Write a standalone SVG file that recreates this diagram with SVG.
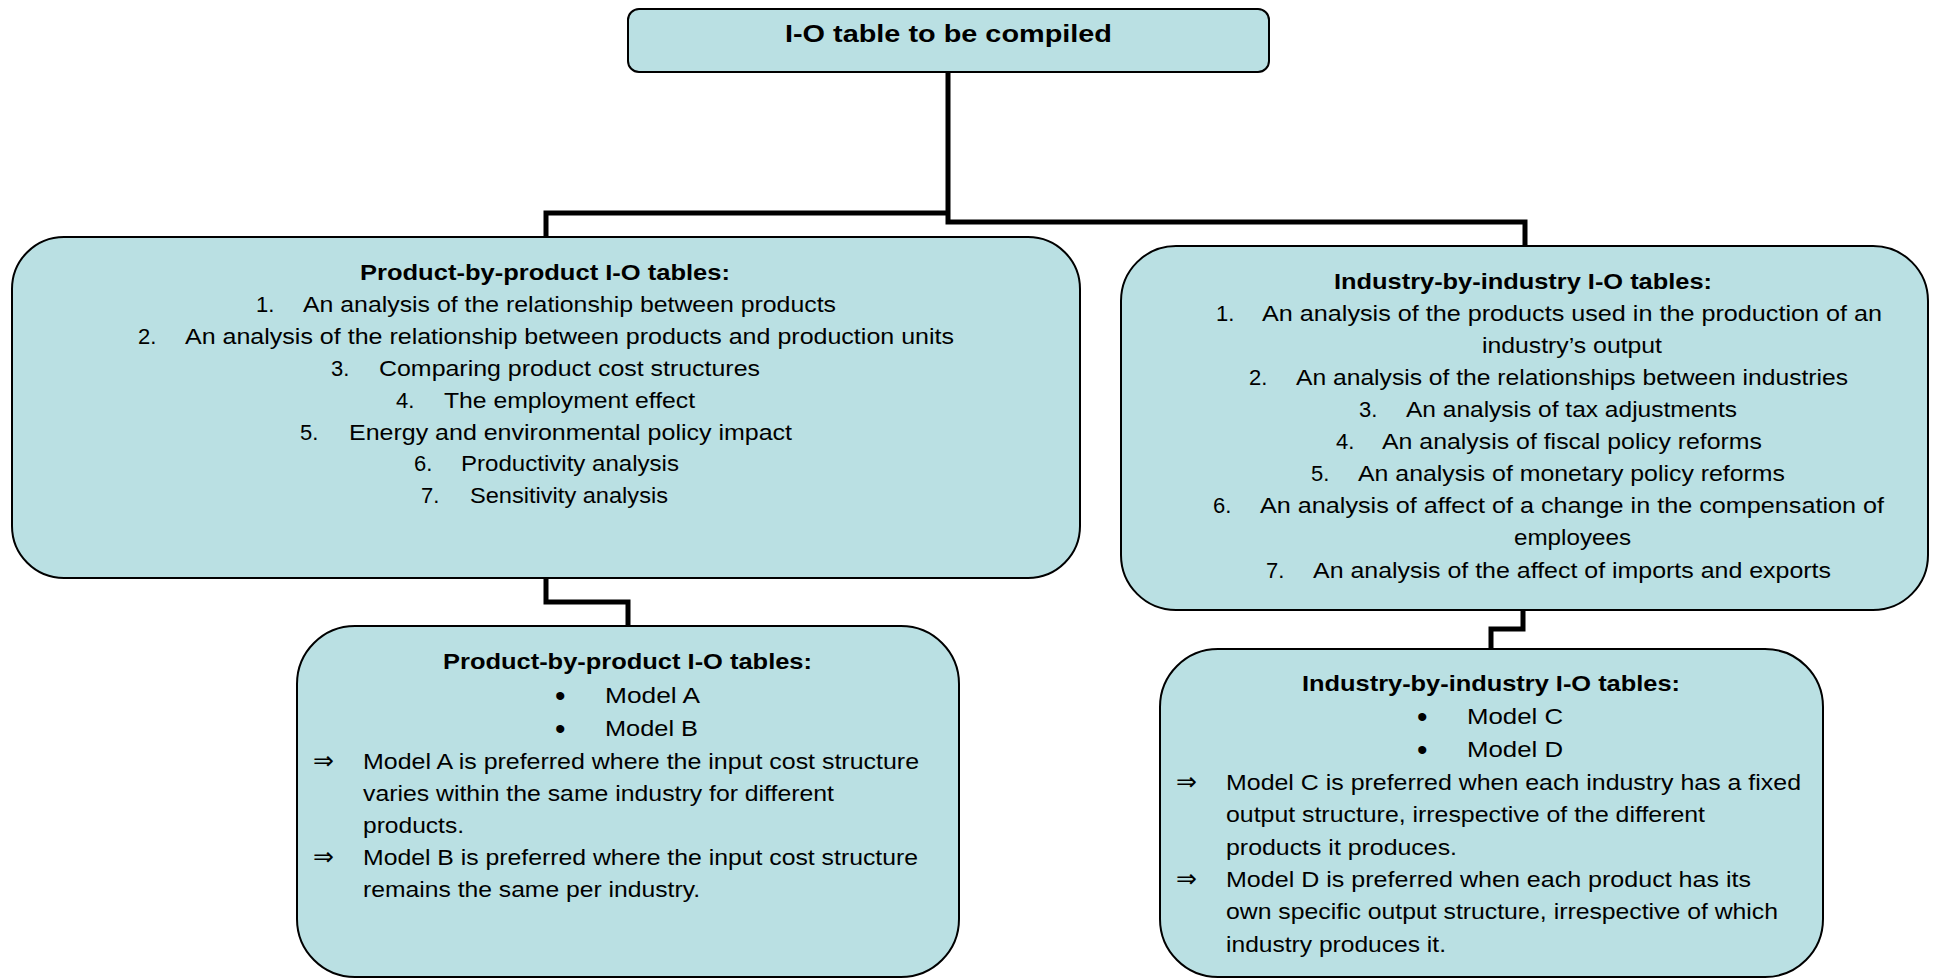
<svg xmlns="http://www.w3.org/2000/svg" width="1935" height="979" viewBox="0 0 1935 979">
<style>
.box{fill:#BAE0E3;stroke:#000;stroke-width:2}
.con{fill:none;stroke:#000;stroke-width:5;stroke-linejoin:miter}
text{font-family:"Liberation Sans",Arial,sans-serif;font-size:22px;fill:#000}
.b{font-weight:bold}
.t{font-size:24px;font-weight:bold}
.ar{font-family:"DejaVu Sans",sans-serif;font-size:25px}
.bu{font-size:30px}
</style>
<rect width="1935" height="979" fill="#fff"/>
<g id="connectors">
<path class="con" d="M948 72 V222 H1525 V246"/>
<path class="con" d="M948 213 H546 V237"/>
<path class="con" d="M546 578 V602 H628 V626"/>
<path class="con" d="M1523 610 V629 H1491 V649"/>
</g>
<g id="top">
<rect class="box" x="628" y="9" width="641" height="63" rx="11"/>
<text class="t" x="785" y="42" textLength="327" lengthAdjust="spacingAndGlyphs">I-O table to be compiled</text>
</g>
<g id="product-uses">
<rect class="box" x="12" y="237" width="1068" height="341" rx="52"/>
<text class="b" x="360" y="280" textLength="370" lengthAdjust="spacingAndGlyphs">Product-by-product I-O tables:</text>
<text x="256" y="312">1.</text><text x="303" y="312" textLength="533" lengthAdjust="spacingAndGlyphs">An analysis of the relationship between products</text>
<text x="138" y="344">2.</text><text x="185" y="344" textLength="769" lengthAdjust="spacingAndGlyphs">An analysis of the relationship between products and production units</text>
<text x="331" y="376">3.</text><text x="379" y="376" textLength="381" lengthAdjust="spacingAndGlyphs">Comparing product cost structures</text>
<text x="396" y="408">4.</text><text x="444" y="408" textLength="251" lengthAdjust="spacingAndGlyphs">The employment effect</text>
<text x="300" y="440">5.</text><text x="349" y="440" textLength="443" lengthAdjust="spacingAndGlyphs">Energy and environmental policy impact</text>
<text x="414" y="471">6.</text><text x="461" y="471" textLength="218" lengthAdjust="spacingAndGlyphs">Productivity analysis</text>
<text x="421" y="503">7.</text><text x="470" y="503" textLength="198" lengthAdjust="spacingAndGlyphs">Sensitivity analysis</text>
</g>
<g id="industry-uses">
<rect class="box" x="1121" y="246" width="807" height="364" rx="55"/>
<text class="b" x="1334" y="289" textLength="378" lengthAdjust="spacingAndGlyphs">Industry-by-industry I-O tables:</text>
<text x="1216" y="321">1.</text><text x="1262" y="321" textLength="620" lengthAdjust="spacingAndGlyphs">An analysis of the products used in the production of an</text>
<text x="1482" y="353" textLength="180" lengthAdjust="spacingAndGlyphs">industry’s output</text>
<text x="1249" y="385">2.</text><text x="1296" y="385" textLength="552" lengthAdjust="spacingAndGlyphs">An analysis of the relationships between industries</text>
<text x="1359" y="417">3.</text><text x="1406" y="417" textLength="331" lengthAdjust="spacingAndGlyphs">An analysis of tax adjustments</text>
<text x="1336" y="449">4.</text><text x="1382" y="449" textLength="380" lengthAdjust="spacingAndGlyphs">An analysis of fiscal policy reforms</text>
<text x="1311" y="481">5.</text><text x="1358" y="481" textLength="427" lengthAdjust="spacingAndGlyphs">An analysis of monetary policy reforms</text>
<text x="1213" y="513">6.</text><text x="1260" y="513" textLength="624" lengthAdjust="spacingAndGlyphs">An analysis of affect of a change in the compensation of</text>
<text x="1514" y="545" textLength="117" lengthAdjust="spacingAndGlyphs">employees</text>
<text x="1266" y="578">7.</text><text x="1313" y="578" textLength="518" lengthAdjust="spacingAndGlyphs">An analysis of the affect of imports and exports</text>
</g>
<g id="product-models">
<rect class="box" x="297" y="626" width="662" height="351" rx="58"/>
<text class="b" x="443" y="669" textLength="369" lengthAdjust="spacingAndGlyphs">Product-by-product I-O tables:</text>
<text class="bu" x="555" y="706">•</text><text x="605" y="703" textLength="95" lengthAdjust="spacingAndGlyphs">Model A</text>
<text class="bu" x="555" y="739">•</text><text x="605" y="736" textLength="93" lengthAdjust="spacingAndGlyphs">Model B</text>
<text class="ar" x="313" y="769">⇒</text><text x="363" y="769" textLength="556" lengthAdjust="spacingAndGlyphs">Model A is preferred where the input cost structure</text>
<text x="363" y="801" textLength="471" lengthAdjust="spacingAndGlyphs">varies within the same industry for different</text>
<text x="363" y="833" textLength="101" lengthAdjust="spacingAndGlyphs">products.</text>
<text class="ar" x="313" y="865">⇒</text><text x="363" y="865" textLength="555" lengthAdjust="spacingAndGlyphs">Model B is preferred where the input cost structure</text>
<text x="363" y="897" textLength="337" lengthAdjust="spacingAndGlyphs">remains the same per industry.</text>
</g>
<g id="industry-models">
<rect class="box" x="1160" y="649" width="663" height="328" rx="58"/>
<text class="b" x="1302" y="691" textLength="378" lengthAdjust="spacingAndGlyphs">Industry-by-industry I-O tables:</text>
<text class="bu" x="1417" y="727">•</text><text x="1467" y="724" textLength="96" lengthAdjust="spacingAndGlyphs">Model C</text>
<text class="bu" x="1417" y="760">•</text><text x="1467" y="757" textLength="96" lengthAdjust="spacingAndGlyphs">Model D</text>
<text class="ar" x="1176" y="790">⇒</text><text x="1226" y="790" textLength="575" lengthAdjust="spacingAndGlyphs">Model C is preferred when each industry has a fixed</text>
<text x="1226" y="822" textLength="479" lengthAdjust="spacingAndGlyphs">output structure, irrespective of the different</text>
<text x="1226" y="855" textLength="231" lengthAdjust="spacingAndGlyphs">products it produces.</text>
<text class="ar" x="1176" y="887">⇒</text><text x="1226" y="887" textLength="525" lengthAdjust="spacingAndGlyphs">Model D is preferred when each product has its</text>
<text x="1226" y="919" textLength="552" lengthAdjust="spacingAndGlyphs">own specific output structure, irrespective of which</text>
<text x="1226" y="952" textLength="220" lengthAdjust="spacingAndGlyphs">industry produces it.</text>
</g>
</svg>
